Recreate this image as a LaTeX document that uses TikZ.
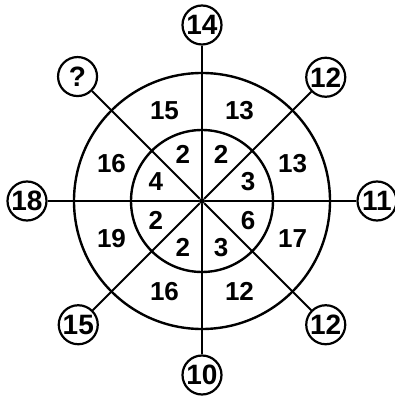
\documentclass[tikz,border=0pt]{standalone}
\usepackage{fontspec}
\setmainfont{Liberation Sans}
\usepackage{tikz}
\usetikzlibrary{positioning}

\begin{document}
\begin{tikzpicture}[x=1pt, y=1pt,
                ball/.style={circle, draw=black, line width=2.2pt, fill=white, minimum size=39pt, inner sep=0pt, font=\fontsize{28}{28}\selectfont\bfseries},
                num/.style={inner sep=0pt, font=\fontsize{26}{26}\selectfont\bfseries},
                ring/.style={line width=2.4pt},
                spoke/.style={line width=2pt},
                hub/.style={circle, fill=black, minimum size=6pt, inner sep=0pt}
            ]
                \useasboundingbox (-202,-195) rectangle (192,201);
                \node (hub) [hub] at (0,0) {};
                \draw [ring] (hub.center) circle (128);
                \draw [ring] (hub.center) circle (71);

                % outer ring
                \node (o1) [num] at (112.5:98) {15};
                \node (o2) [num] at (67.5:98) {13};
                \node (o3) [num] at (22.5:98) {13};
                \node (o4) [num] at (-22.5:98) {17};
                \node (o5) [num] at (-67.5:98) {12};
                \node (o6) [num] at (-112.5:98) {16};
                \node (o7) [num] at (-157.5:98) {19};
                \node (o8) [num] at (157.5:98) {16};

                % inner ring
                \node (i1) [num] at (112.5:50) {2};
                \node (i2) [num] at (67.5:50) {2};
                \node (i3) [num] at (22.5:50) {3};
                \node (i4) [num] at (-22.5:50) {6};
                \node (i5) [num] at (-67.5:50) {3};
                \node (i6) [num] at (-112.5:50) {2};
                \node (i7) [num] at (-157.5:50) {2};
                \node (i8) [num] at (157.5:50) {4};

                % balls at the spoke ends
                \node (b14) [ball] at (90:176) {14};
                \node (b12a) [ball] at (45:175) {12};
                \node (b11) [ball] at (0:175) {11};
                \node (b12b) [ball] at (-45:175) {12};
                \node (b10) [ball] at (-90:174) {10};
                \node (b15) [ball] at (-135:175) {15};
                \node (b18) [ball] at (180:175) {18};
                \node (bq) [ball] at (135:176) {?};

                \draw [spoke] (hub) -- (b14);
                \draw [spoke] (hub) -- (b12a);
                \draw [spoke] (hub) -- (b11);
                \draw [spoke] (hub) -- (b12b);
                \draw [spoke] (hub) -- (b10);
                \draw [spoke] (hub) -- (b15);
                \draw [spoke] (hub) -- (b18);
                \draw [spoke] (hub) -- (bq);
            \end{tikzpicture}
\end{document}
